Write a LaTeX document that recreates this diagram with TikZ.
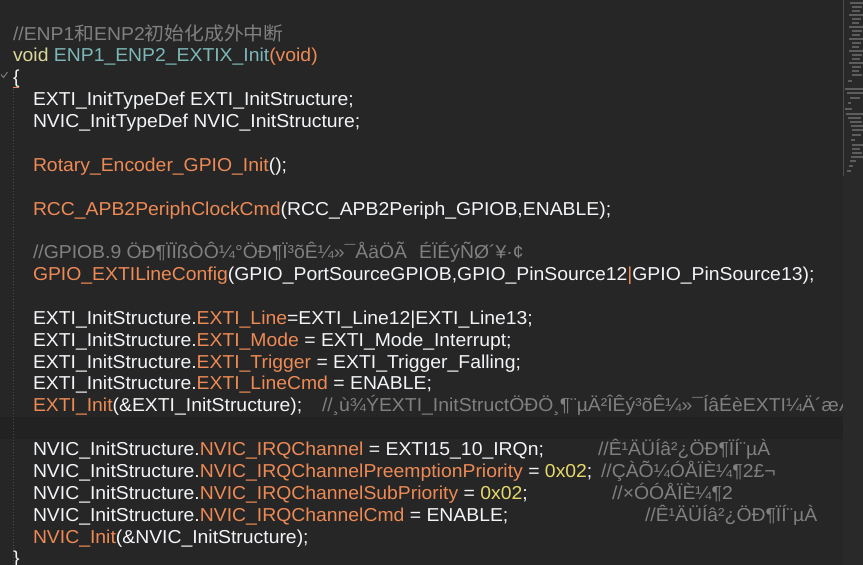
\documentclass[tikz,border=0pt]{standalone}
\usepackage{fontspec}
\setmainfont[FakeStretch=1.036]{Liberation Sans}
\newfontfamily\cjk[FakeStretch=1.06]{Noto Sans CJK SC}
\definecolor{bg}{HTML}{262626}
\definecolor{band}{HTML}{222222}
\definecolor{mini}{HTML}{292929}
\definecolor{txt}{HTML}{F2F4F8}
\definecolor{orn}{HTML}{EE8A55}
\definecolor{cmt}{HTML}{808080}
\definecolor{kwd}{HTML}{DCD89A}
\definecolor{fun}{HTML}{7DB8B8}
\definecolor{num}{HTML}{E6D86C}
\definecolor{guide}{HTML}{4A4A4A}
\newcommand\ko[1]{\textcolor{orn}{#1}}
\newcommand\kc[1]{\textcolor{cmt}{#1}}
\newcommand\kk[1]{\textcolor{kwd}{#1}}
\newcommand\kf[1]{\textcolor{fun}{#1}}
\newcommand\kn[1]{\textcolor{num}{#1}}
\begin{document}
\begin{tikzpicture}[x=1pt,y=-1pt,
  code/.style={anchor=base west, inner sep=0pt, outer sep=0pt, text=txt,
    font=\fontsize{18.7}{22}\selectfont}]
\fill[bg] (0,0) rectangle (863,565);
\useasboundingbox (0,0) rectangle (863,565);
% current line band
\fill[band] (0,417) rectangle (843,438.5);
% indent guide
\draw[guide, line width=0.8pt, dash pattern=on 1pt off 2pt] (13.5,89) -- (13.5,565);
% fold marker
\draw[cmt, line width=0.9pt] (1,74.5) -- (3.5,77.5) -- (7.5,72);
% code lines
\node[code] (l0)  at (13,40)    {\kc{//ENP1{\cjk 和}ENP2{\cjk 初始化成外中断}}};
\node[code] (l1)  at (13,61.9)  {\kk{void} \kf{ENP1\_ENP2\_EXTIX\_Init}\ko{(void)}};
\node[code] (l2)  at (13,83.7)  {\{};
\draw[orn, line width=0.9pt] (13,87.5) -- (19,87.5);
\node[code] (l3)  at (33,105.6) {EXTI\_InitTypeDef EXTI\_InitStructure;};
\node[code] (l4)  at (33,127.5) {NVIC\_InitTypeDef NVIC\_InitStructure;};
\node[code] (l6)  at (33,171.2) {\ko{Rotary\_Encoder\_GPIO\_Init}();};
\node[code] (l8)  at (33,215.0) {\ko{RCC\_APB2PeriphClockCmd}(RCC\_APB2Periph\_GPIOB,ENABLE);};
\node[code] (l10) at (33,258.7) {\kc{//GPIOB.9 ÖÐ¶ÏÏßÒÔ¼°ÖÐ¶Ï³õÊ¼»¯ÅäÖÃ\hspace{12pt}ÉÏÉýÑØ´¥·¢}};
\node[code] (l11) at (33,280.6) {\ko{GPIO\_EXTILineConfig}(GPIO\_PortSourceGPIOB,GPIO\_PinSource12\ko{|}GPIO\_PinSource13);};
\node[code] (l13) at (33,324.3) {EXTI\_InitStructure.\ko{EXTI\_Line}=EXTI\_Line12|EXTI\_Line13;};
\node[code] (l14) at (33,346.2) {EXTI\_InitStructure.\ko{EXTI\_Mode} = EXTI\_Mode\_Interrupt;};
\node[code] (l15) at (33,368.1) {EXTI\_InitStructure.\ko{EXTI\_Trigger} = EXTI\_Trigger\_Falling;};
\node[code] (l16) at (33,389.9) {EXTI\_InitStructure.\ko{EXTI\_LineCmd} = ENABLE;};
\node[code] (l17) at (33,411.8) {\ko{EXTI\_Init}(\&EXTI\_InitStructure);};
\node[code] (c17) at (322,411.8) {\kc{//¸ù¾ÝEXTI\_InitStructÖÐÖ¸¶¨µÄ²ÎÊý³õÊ¼»¯ÍâÉèEXTI¼Ä´æÆ÷}};
\node[code] (l19) at (33,455.5) {NVIC\_InitStructure.\ko{NVIC\_IRQChannel} = EXTI15\_10\_IRQn;};
\node[code] (c19) at (598,455.5) {\kc{//Ê¹ÄÜÍâ²¿ÖÐ¶ÏÍ¨µÀ}};
\node[code] (l20) at (33,477.4) {NVIC\_InitStructure.\ko{NVIC\_IRQChannelPreemptionPriority} = \kn{0x02};};
\node[code] (c20) at (601,477.4) {\kc{//ÇÀÕ¼ÓÅÏÈ¼¶2£¬}};
\node[code] (l21) at (33,499.3) {NVIC\_InitStructure.\ko{NVIC\_IRQChannelSubPriority} = \kn{0x02};};
\node[code] (c21) at (612,499.3) {\kc{//×ÓÓÅÏÈ¼¶2}};
\node[code] (l22) at (33,521.1) {NVIC\_InitStructure.\ko{NVIC\_IRQChannelCmd} = ENABLE;};
\node[code] (c22) at (645,521.1) {\kc{//Ê¹ÄÜÍâ²¿ÖÐ¶ÏÍ¨µÀ}};
\node[code] (l23) at (33,543.0) {\ko{NVIC\_Init}(\&NVIC\_InitStructure);};
\node[code] (l24) at (13,564.9) {\}};
% minimap panel
\fill[mini] (843,0) rectangle (863,565);
\draw[guide, line width=0.6pt] (843.5,0) -- (843.5,176);
\foreach \yy/\xa/\xb in {2/850/863, 6/852/862, 10/852/860, 14/849/863, 18/852/861, 22/852/859,
   26/849/863, 30/852/862, 34/852/860, 38/849/863, 42/852/861, 46/852/859,
   50/849/863, 54/852/862, 58/852/860, 62/849/863, 66/852/861, 70/852/859, 74/852/862,
   80/848/852, 88/845/863, 92/847/863, 97/850/860, 102/848/851, 108/845/852,
   113/846/863, 117/848/861, 121/850/862, 125/851/863, 129/852/863, 134/852/861,
   139/851/855, 144/852/863, 148/852/860, 152/852/862, 156/851/863, 160/850/856, 165/849/853, 170/847/851}
  \fill[gray!60!mini] (\xa,\yy) rectangle (\xb,\yy+1.6);
\end{tikzpicture}
\end{document}
